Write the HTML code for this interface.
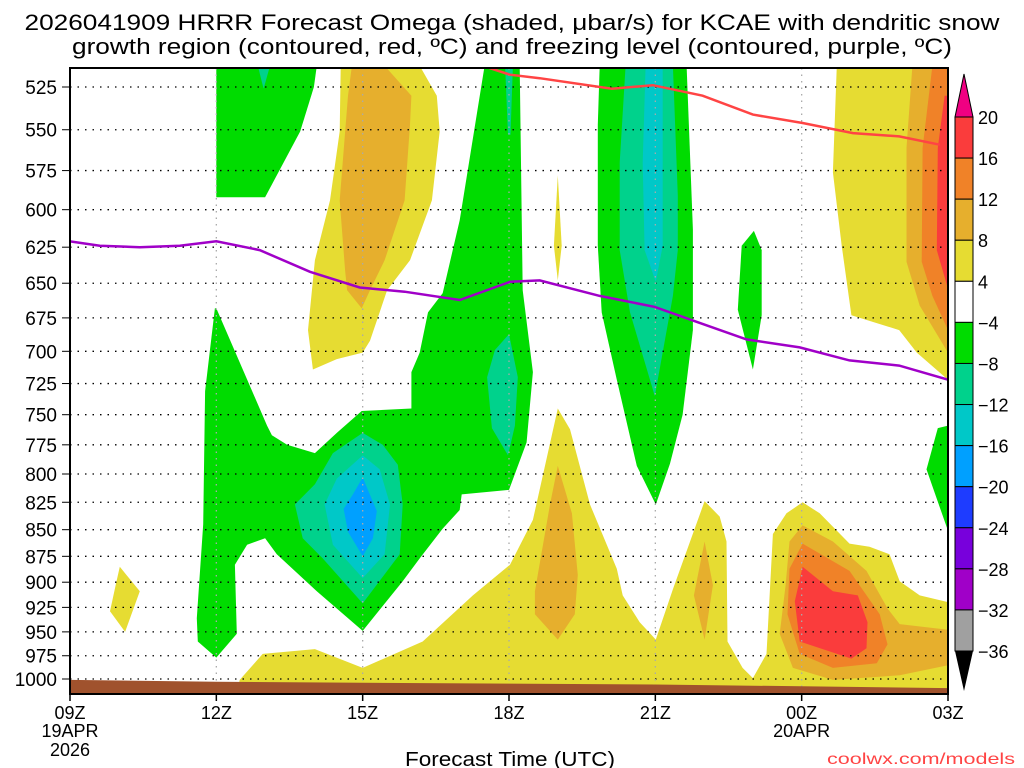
<!DOCTYPE html>
<html><head><meta charset="utf-8"><style>
html,body{margin:0;padding:0;background:#fff;}
svg{display:block;font-family:"Liberation Sans","DejaVu Sans",sans-serif;}
</style></head><body>
<svg id="chart" width="1024" height="768" viewBox="0 0 1024 768" xmlns="http://www.w3.org/2000/svg">
<defs><clipPath id="plotclip"><rect x="70" y="68" width="878" height="627"/></clipPath></defs>
<text x="512" y="30" text-anchor="middle" font-size="22" textLength="975" lengthAdjust="spacingAndGlyphs">2026041909 HRRR Forecast Omega (shaded, μbar/s) for KCAE with dendritic snow</text>
<text x="512" y="54" text-anchor="middle" font-size="22" textLength="880" lengthAdjust="spacingAndGlyphs">growth region (contoured, red, ºC) and freezing level (contoured, purple, ºC)</text>
<g id="fills" clip-path="url(#plotclip)"></g>
<g id="grid"></g>
<g id="lines" clip-path="url(#plotclip)"></g>
<g id="terrain" clip-path="url(#plotclip)"></g>
<rect x="70" y="68" width="878" height="626" fill="none" stroke="#000" stroke-width="2"/>
<g id="axes"></g>
<g id="cbar"></g>
<text x="510" y="766" text-anchor="middle" font-size="20" textLength="210" lengthAdjust="spacingAndGlyphs">Forecast Time (UTC)</text>
<text x="1015" y="764" text-anchor="end" font-size="16" fill="#ff4444" textLength="188" lengthAdjust="spacingAndGlyphs">coolwx.com/models</text>
</svg>
<script>
// ---- data (hours since 09Z, pressure hPa) ----
const pressureLevels = [525,550,575,600,625,650,675,700,725,750,775,800,825,850,875,900,925,950,975,1000];
const timeHours = [0,3,6,9,12,15,18];
const timeLabels = ["09Z","12Z","15Z","18Z","21Z","00Z","03Z"];
const cbarLevels = [20,16,12,8,4,-4,-8,-12,-16,-20,-24,-28,-32,-36];
const cbarColors = ["#fa3c3c","#f08228","#e6af2d","#e6dc32","#ffffff","#00dc00","#00d28c","#00c8c8","#00a0ff","#1e3cff","#7800dc","#a000c8","#a0a0a0"];

const yellowTop = [[5.64,513],[7.17,513],[7.52,530],[7.58,551],[7.42,594],[6.97,634],[6.5,655],[6.15,692],[6.0,701],[5.47,706],[4.98,714],[4.88,684],[5.02,634],[5.33,594],[5.53,551],[5.55,513]];
const goldTop = [[5.78,513],[6.45,513],[7.0,530],[6.97,547],[6.86,594],[6.45,634],[6.15,655],[5.98,668],[5.68,655],[5.64,641],[5.53,594],[5.7,530]];
const yellowRight = [[15.72,513],[18.2,513],[18.2,722],[18.0,722],[17.36,701],[17.0,684],[16.02,673],[15.82,624],[15.64,576]];
const goldRight = [[17.27,513],[18.2,513],[18.2,701],[18.0,701],[17.42,666],[17.15,635],[17.15,561]];
const orangeRight = [[17.68,513],[18.2,513],[18.2,684],[18.0,684],[17.68,659],[17.46,635],[17.48,561]];
const redRight = [[18.2,530],[17.93,530],[17.79,561],[17.77,627],[18.0,654],[18.2,654]];
const yellowLow = [[3.42,1017],[3.48,1001],[3.95,973],[5.02,968],[6.0,988],[7.23,960],[8.26,913],[9.02,883],[9.49,841],[10.0,745],[10.25,762],[10.66,827],[11.21,887],[11.33,913],[11.68,940],[12.01,958],[12.36,907],[13.01,824],[13.32,838],[13.46,861],[13.48,960],[13.79,988],[14.0,999],[14.28,973],[14.41,854],[14.69,835],[15.02,825],[15.37,835],[15.98,863],[16.39,866],[16.8,873],[17.01,899],[17.42,913],[18.2,922],[18.2,1017]];
const gold19 = [[10.0,793],[10.29,835],[10.41,893],[10.35,932],[10.0,958],[9.53,932],[9.53,909],[9.84,827]];
const gold22 = [[13.01,861],[13.18,903],[13.01,958],[12.79,913]];
const gold00 = [[15.02,846],[15.64,861],[16.33,889],[16.76,926],[17.01,942],[18.2,949],[18.2,983],[17.01,996],[15.64,1001],[14.82,988],[14.55,952],[14.67,903],[14.75,861]];
const orange00 = [[15.02,863],[15.98,889],[16.6,932],[16.76,963],[16.54,983],[15.64,988],[14.96,973],[14.71,932],[14.75,887]];
const red00 = [[15.02,885],[15.64,909],[16.15,913],[16.35,940],[16.33,967],[16.02,978],[14.96,960],[14.86,919]];
const yellow10 = [[1.02,885],[1.43,909],[1.13,950],[0.82,929],[0.95,900]];
const yellowSliver = [[10.0,578],[10.08,624],[10.0,648],[9.92,624]];
const greenTopLeft = [[3.0,513],[5.06,513],[5.0,525],[4.72,551],[4.0,592],[3.0,592]];
const greenBig = [[3.0,668],[4.04,759],[4.14,767],[4.45,775],[5.02,782],[5.47,765],[5.98,747],[7.0,745],[7.0,716],[7.17,701],[7.34,671],[7.64,657],[7.99,607],[8.5,513],[9.22,513],[9.28,655],[9.49,716],[9.36,773],[9.0,814],[8.03,818],[7.99,832],[7.64,849],[7.17,877],[6.82,899],[6.0,949],[5.06,909],[4.24,873],[4.0,858],[3.63,864],[3.38,883],[3.42,952],[3.0,977],[2.62,960],[2.6,936],[2.73,845],[2.77,731],[2.97,668]];
const mint15 = [[6.0,765],[6.41,775],[6.72,792],[6.82,827],[6.76,873],[6.0,921],[5.18,877],[4.77,858],[4.61,827],[5.02,809],[5.39,782]];
const cyan15 = [[6.0,784],[6.35,796],[6.56,827],[6.45,873],[6.0,896],[5.39,864],[5.22,827],[5.47,804]];
const sky15 = [[6.0,803],[6.29,833],[6.21,858],[6.0,875],[5.7,852],[5.61,831],[5.8,818]];
const mint18 = [[9.0,687],[9.18,720],[9.12,759],[8.98,784],[8.65,761],[8.55,720],[8.71,699]];
const mint18Top = [[8.92,513],[9.08,513],[9.03,553],[8.98,553]];
const mint12Top = [[3.85,513],[4.1,513],[3.97,526]];
const green21 = [[10.86,513],[10.82,547],[10.82,624],[10.9,671],[11.21,722],[11.62,793],[12.01,827],[12.3,791],[12.56,750],[12.77,684],[12.77,613],[12.64,513]];
const mint21 = [[11.39,513],[11.27,570],[11.27,627],[11.48,671],[11.99,735],[12.36,659],[12.46,627],[12.46,591],[12.36,513]];
const cyan21 = [[11.8,513],[12.15,513],[12.15,624],[12.01,649],[11.78,627],[11.74,570]];
const greenSmall = [[14.02,614],[14.18,627],[14.18,673],[14.0,714],[13.69,669],[13.77,624]];
const greenRightLow = [[18.2,757],[17.79,761],[17.56,796],[18.0,851],[18.2,851]];

const dgzHours = [8.46,9.02,9.63,11.11,11.95,12.97,14.0,15.02,16.05,17.0,17.83];
const dgzPress = [513,518,520,526,524,530,541,546,552,554,559];
const frzHours = [0,0.61,1.43,2.25,3.0,3.89,4.92,5.94,6.86,7.99,9.02,9.63,10.86,11.99,12.7,13.87,14.96,15.98,17.0,18.0];
const frzPress = [621,624,625,624,621,627,642,653,656,662,649,648,659,667,676,691,697,707,711,722];
const sfcHours = [0,3,6,9,12,15,18];
const sfcPress = [1001,1003,1004,1005,1006,1008,1010];

// ---- scales ----
const X0=70, X1=948, Y525=87, Y1000=679;
function xs(h){return X0 + h*(X1-X0)/18;}
function ys(p){return Y525 + (Math.log(p)-Math.log(525))/(Math.log(1000)-Math.log(525))*(Y1000-Y525);}
const NS="http://www.w3.org/2000/svg";
function mk(tag,attrs,parent){const e=document.createElementNS(NS,tag);for(const k in attrs)e.setAttribute(k,attrs[k]);parent.appendChild(e);return e;}
function pts(arr){return arr.map(d=>xs(d[0]).toFixed(1)+","+ys(d[1]).toFixed(1)).join(" ");}

const fills = document.getElementById('fills');
const shapes = [
 [yellowTop,3,'yellow-region-top'],[goldTop,2,'gold-region-top'],
 [yellowRight,3,'yellow-region-right'],[goldRight,2,'gold-region-right'],[orangeRight,1,'orange-region-right'],[redRight,0,'red-region-right'],
 [yellowLow,3,'yellow-region-low'],[gold19,2,'gold-region-19z'],[gold22,2,'gold-region-22z'],
 [gold00,2,'gold-region-00z'],[orange00,1,'orange-region-00z'],[red00,0,'red-region-00z'],
 [yellow10,3,'yellow-region-10z'],[yellowSliver,3,'yellow-sliver-19z'],
 [greenTopLeft,5,'green-region-top-left'],[mint12Top,6,'mint-region-12z-top'],
 [greenBig,5,'green-region-main'],[mint15,6,'mint-region-15z'],[cyan15,7,'cyan-region-15z'],[sky15,8,'blue-region-15z'],
 [mint18,6,'mint-region-18z'],[mint18Top,6,'mint-region-18z-top'],
 [green21,5,'green-region-21z'],[mint21,6,'mint-region-21z'],[cyan21,7,'cyan-region-21z'],
 [greenSmall,5,'green-region-23z'],[greenRightLow,5,'green-region-right-low']
];
shapes.forEach(s=>{
  const el=mk('polygon',{points:pts(s[0]),fill:cbarColors[s[1]]},fills);
  
  
});

// grid
const grid=document.getElementById('grid');
pressureLevels.forEach(p=>{
  const l=mk('line',{x1:X0,x2:X1,y1:ys(p),y2:ys(p),stroke:'#000','stroke-width':1.3,'stroke-dasharray':'1.5,6'},grid);
  
  
});
timeHours.slice(1,-1).forEach(h=>{
  const l=mk('line',{x1:xs(h),x2:xs(h),y1:68,y2:694,stroke:'#aaa','stroke-width':1.3,'stroke-dasharray':'1.5,5'},grid);
  
  
});

// contour lines
const lines=document.getElementById('lines');
const dgz=mk('polyline',{points:pts(dgzHours.map((h,i)=>[h,dgzPress[i]])),fill:'none',stroke:'#f44',"stroke-width":2.5},lines);


const frz=mk('polyline',{points:pts(frzHours.map((h,i)=>[h,frzPress[i]])),fill:'none',stroke:'#a000c8',"stroke-width":2.5},lines);



// terrain
const terr=document.getElementById('terrain');
const tp=sfcHours.map((h,i)=>[h,sfcPress[i]]);
const tpoly=mk('polygon',{points:pts(tp)+" "+xs(18)+",700 "+xs(0)+",700",fill:'#a0522d'},terr);



// axes
const axes=document.getElementById('axes');
pressureLevels.forEach(p=>{
  const t=mk('text',{x:57,y:ys(p)+7,'text-anchor':'end','font-size':19},axes);
  t.textContent=p;
  
  
  const tk=mk('line',{x1:62,x2:70,y1:ys(p),y2:ys(p),stroke:'#000','stroke-width':1},axes);
  
  
});
timeHours.forEach((h,i)=>{
  const t=mk('text',{x:xs(h),y:719,'text-anchor':'middle','font-size':18},axes);
  t.textContent=timeLabels[i];
  
  
  const tk=mk('line',{x1:xs(h),x2:xs(h),y1:694,y2:701,stroke:'#000','stroke-width':1.5},axes);
  
  
});
[["19APR",0,737],["2026",0,756],["20APR",15,737]].forEach(d=>{
  const t=mk('text',{x:xs(d[1]),y:d[2],'text-anchor':'middle','font-size':18},axes);
  t.textContent=d[0];
  
  
});

// colorbar
const cb=document.getElementById('cbar');
const CBX=955, CBW=18, CBTOP=117, STEP=(651-117)/13;
cbarColors.forEach((c,i)=>{
  const r=mk('rect',{x:CBX,y:CBTOP+i*STEP,width:CBW,height:STEP,fill:c,stroke:'#000','stroke-width':1},cb);
  
  
});
const tri1=mk('polygon',{points:`${CBX},${CBTOP} ${CBX+CBW},${CBTOP} ${CBX+CBW/2},74`,fill:'#f00082',stroke:'#000','stroke-width':1},cb);


const tri2=mk('polygon',{points:`${CBX},651 ${CBX+CBW},651 ${CBX+CBW/2},691`,fill:'#000'},cb);


cbarLevels.forEach((v,i)=>{
  const t=mk('text',{x:978,y:CBTOP+i*STEP+7,'font-size':18},cb);
  t.textContent=(v<0?'\u2212'+(-v):String(v));
  
  
});
</script>
</body></html>
